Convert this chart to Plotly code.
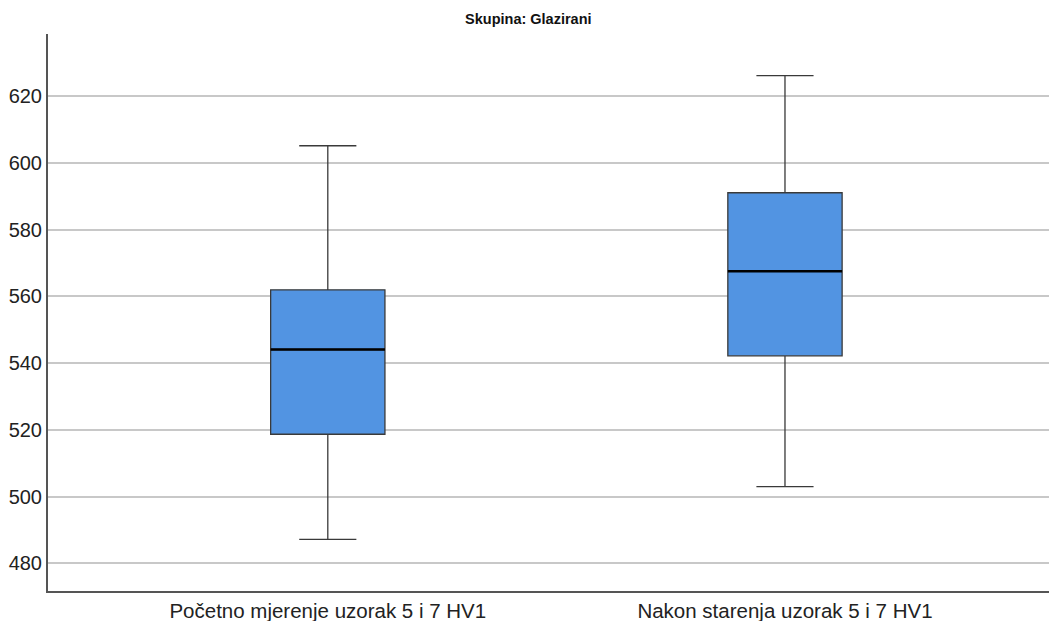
import plotly.graph_objects as go

categories = ["Početno mjerenje uzorak 5 i 7 HV1", "Nakon starenja uzorak 5 i 7 HV1"]
lower_whisker = [487.2, 503.0]
q1_values = [518.7, 542.2]
median_values = [544.1, 567.6]
q3_values = [562.0, 591.1]
upper_whisker = [605.2, 626.2]
y_ticks = [480, 500, 520, 540, 560, 580, 600, 620]

BOX_W = 0.25
positions = list(range(len(categories)))

fig = go.Figure()
fig.add_trace(go.Box(
    x=positions,
    q1=q1_values,
    median=median_values,
    q3=q3_values,
    lowerfence=lower_whisker,
    upperfence=upper_whisker,
    width=BOX_W,
    whiskerwidth=0.5,
    fillcolor="#5294e2",
    line=dict(color="#3a3a3a", width=1.3),
    showlegend=False,
    hoverinfo="skip",
))
for p, m in zip(positions, median_values):
    fig.add_trace(go.Scatter(
        x=[p - BOX_W / 2, p + BOX_W / 2], y=[m, m], mode="lines",
        line=dict(color="#000000", width=2.5), showlegend=False, hoverinfo="skip",
    ))

# page body has an 8px default margin, so the figure is sized/offset to compensate
fig.update_layout(
    width=1049, height=613,
    margin=dict(l=40, r=0, t=26, b=30, autoexpand=False),
    paper_bgcolor="white", plot_bgcolor="white",
    font=dict(family="Liberation Sans, Arial, sans-serif", color="#222222"),
    title=dict(text="<b>Skupina: Glazirani</b>", x=0.496, xanchor="center", y=0.982, yanchor="middle",
               font=dict(size=14.5, color="#111111")),
)
fig.update_xaxes(
    tickmode="array", tickvals=positions, ticktext=categories,
    range=[-0.612, 1.595], showgrid=False, zeroline=False,
    showline=True, linecolor="#555555", linewidth=2, ticks="",
    tickfont=dict(size=20.5), ticklabelstandoff=0,
)
fig.update_yaxes(
    range=[471.7, 638.7], tickvals=y_ticks, showgrid=True, gridcolor="#c8c8c8", gridwidth=1.5,
    zeroline=False, showline=True, linecolor="#555555", linewidth=2, ticks="",
    tickfont=dict(size=20),
)
fig.write_html("out.html")
